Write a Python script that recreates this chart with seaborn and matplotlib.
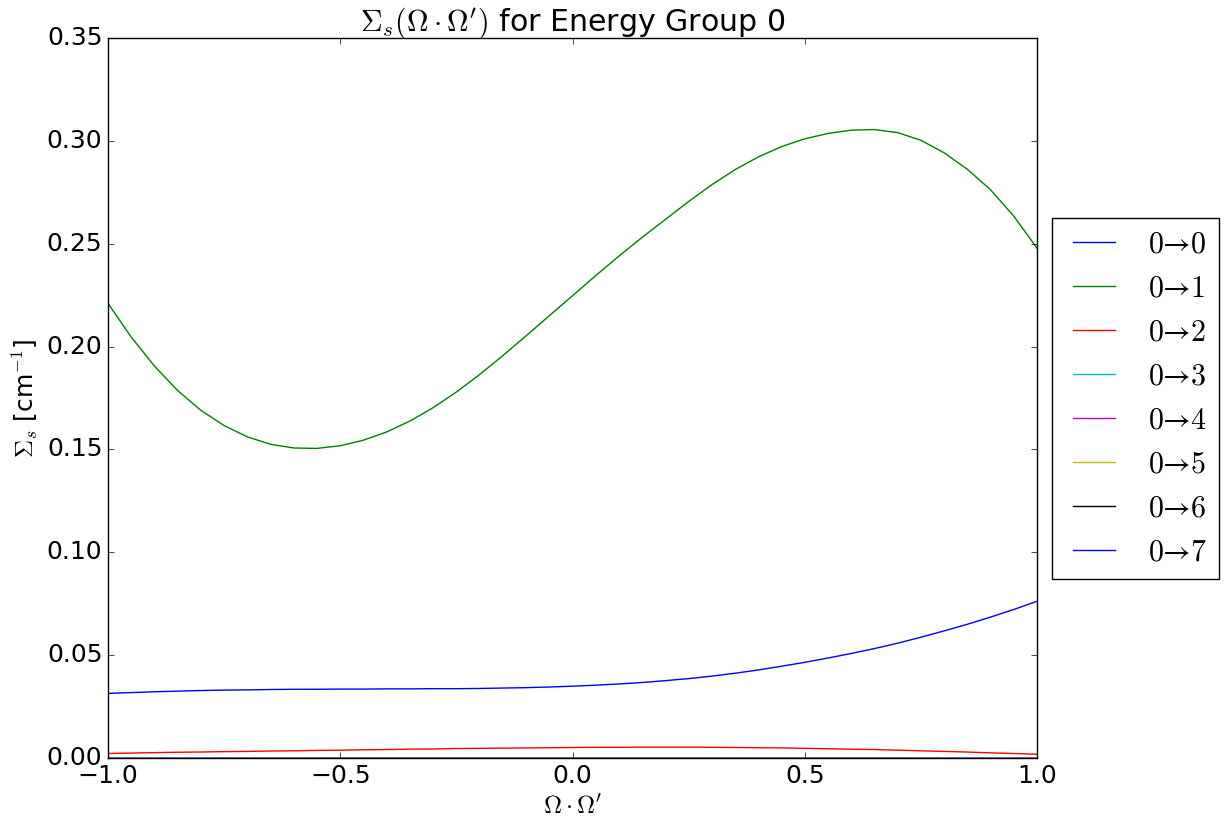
import matplotlib
matplotlib.use("Agg")
import matplotlib.pyplot as plt
import pandas as pd
import seaborn as sns

# Scattering cosine grid
mu = [-1.00, -0.95, -0.90, -0.85, -0.80, -0.75, -0.70, -0.65, -0.60, -0.55, -0.50,
      -0.45, -0.40, -0.35, -0.30, -0.25, -0.20, -0.15, -0.10, -0.05, 0.00,
      0.05, 0.10, 0.15, 0.20, 0.25, 0.30, 0.35, 0.40, 0.45, 0.50,
      0.55, 0.60, 0.65, 0.70, 0.75, 0.80, 0.85, 0.90, 0.95, 1.00]

# Differential scattering cross sections [cm^-1] from group 0 into each group
xs_0_0 = [0.0314, 0.0318, 0.0322, 0.0325, 0.0328, 0.0330, 0.0331, 0.0333, 0.0334, 0.0334, 0.0335,
          0.0335, 0.0336, 0.0336, 0.0337, 0.0337, 0.0338, 0.0340, 0.0342, 0.0345, 0.0349,
          0.0354, 0.0360, 0.0367, 0.0376, 0.0386, 0.0398, 0.0412, 0.0428, 0.0446, 0.0465,
          0.0486, 0.0508, 0.0532, 0.0558, 0.0587, 0.0618, 0.0650, 0.0685, 0.0722, 0.0762]
xs_0_1 = [0.2210, 0.2046, 0.1905, 0.1786, 0.1690, 0.1616, 0.1561, 0.1525, 0.1507, 0.1505, 0.1518,
          0.1545, 0.1585, 0.1638, 0.1703, 0.1779, 0.1864, 0.1956, 0.2052, 0.2150, 0.2247,
          0.2345, 0.2440, 0.2531, 0.2618, 0.2705, 0.2787, 0.2860, 0.2922, 0.2972, 0.3010,
          0.3036, 0.3052, 0.3055, 0.3040, 0.3003, 0.2942, 0.2862, 0.2762, 0.2634, 0.2478]
xs_0_2 = [0.0022, 0.0024, 0.0026, 0.0028, 0.0029, 0.0031, 0.0032, 0.0034, 0.0035, 0.0037, 0.0038,
          0.0040, 0.0041, 0.0043, 0.0044, 0.0046, 0.0047, 0.0048, 0.0049, 0.0050, 0.0051,
          0.0052, 0.0052, 0.0053, 0.0053, 0.0053, 0.0052, 0.0051, 0.0050, 0.0049, 0.0047,
          0.0045, 0.0043, 0.0041, 0.0038, 0.0035, 0.0032, 0.0029, 0.0025, 0.0022, 0.0018]
xs_0_3 = [0.0] * len(mu)
xs_0_4 = [0.0] * len(mu)
xs_0_5 = [0.0] * len(mu)
xs_0_6 = [0.0] * len(mu)
xs_0_7 = [0.0] * len(mu)

labels = ["$0\u21920$", "$0\u21921$", "$0\u21922$", "$0\u21923$",
          "$0\u21924$", "$0\u21925$", "$0\u21926$", "$0\u21927$"]
series = [xs_0_0, xs_0_1, xs_0_2, xs_0_3, xs_0_4, xs_0_5, xs_0_6, xs_0_7]
colors = ["b", "g", "r", "c", "m", "y", "k", "b"]

plt.style.use("classic")
plt.rcParams.update({
    "figure.facecolor": "white",
    "savefig.facecolor": "white",
    "mathtext.fontset": "cm",
    "font.size": 18,
    "font.family": ["DejaVu Sans"],
})

frames = []
for lab, vals in zip(labels, series):
    frames.append(pd.DataFrame({"mu": mu, "xs": vals, "transition": lab}))
df = pd.concat(frames, ignore_index=True)

fig = plt.figure(figsize=(12.25, 8.25), dpi=100)
ax = fig.add_axes([108 / 1225, 67 / 825, (1037 - 108) / 1225, (758 - 38) / 825])

sns.lineplot(data=df, x="mu", y="xs", hue="transition", hue_order=labels,
             palette=dict(zip(labels, colors)), estimator=None, sort=False,
             linewidth=1.0, ax=ax, legend=False)

# legend entries in the same order as the transitions
handles = [plt.Line2D([], [], color=c, linewidth=1.0) for c in colors]
ax.legend(handles, labels, loc="center left", bbox_to_anchor=(1.0, 0.5),
          fontsize=21.6, numpoints=2, handlelength=2.0)

ax.set_xlim(-1.0, 1.0)
ax.set_ylim(0.0, 0.35)
ax.set_xticks([-1.0, -0.5, 0.0, 0.5, 1.0])
ax.set_yticks([0.0, 0.05, 0.10, 0.15, 0.20, 0.25, 0.30, 0.35])
ax.tick_params(labelsize=18)
ax.set_xlabel(r"$\Omega\cdot\Omega'$", fontsize=18)
ax.set_ylabel(r"$\Sigma_s$ [cm$^{-1}$]", fontsize=18)
ax.set_title(r"$\Sigma_s(\Omega\cdot\Omega')$ for Energy Group 0", fontsize=21.6)

fig.savefig("out.png", dpi=100)
